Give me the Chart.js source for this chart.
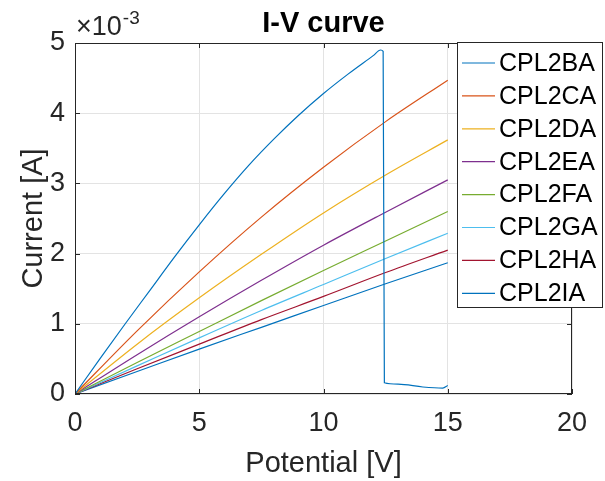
<!DOCTYPE html>
<html>
<head>
<meta charset="utf-8">
<script src="https://cdn.jsdelivr.net/npm/chart.js@4/dist/chart.umd.min.js"></script>
<style>
  html, body { margin: 0; padding: 0; background: #fff; }
  #wrap { width: 605px; height: 481px; }
</style>
</head>
<body>
<div id="wrap"><canvas id="ivChart" width="605" height="481"></canvas></div>
<script>
// values, current in units of 1e-3 A
var seriesNames = ['CPL2BA', 'CPL2CA', 'CPL2DA', 'CPL2EA', 'CPL2FA', 'CPL2GA', 'CPL2HA', 'CPL2IA'];
var seriesColors = ['#0072BD', '#D95319', '#EDB120', '#7E2F8E', '#77AC30', '#4DBEEE', '#A2142F', '#0072BD'];

var baVolts = [0, 1, 2, 3, 4, 5, 6, 7, 8, 9, 10, 11, 12, 12.3, 12.4, 12.45, 13, 14, 14.8, 15];
var baCurrent = [0, 0.5, 0.99, 1.47, 1.95, 2.41, 2.85, 3.26, 3.63, 3.97, 4.28, 4.56, 4.82, 4.9, 4.88, 0.16, 0.14, 0.1, 0.085, 0.12];

var sweepVolts = [0, 2.5, 5, 7.5, 10, 12.5, 15];
var caCurrent = [0, 0.9, 1.74, 2.52, 3.23, 3.88, 4.47];
var daCurrent = [0, 0.71, 1.37, 1.99, 2.58, 3.12, 3.62];
var eaCurrent = [0, 0.56, 1.1, 1.62, 2.12, 2.59, 3.05];
var faCurrent = [0, 0.45, 0.89, 1.33, 1.76, 2.18, 2.6];
var gaCurrent = [0, 0.4, 0.8, 1.19, 1.56, 1.93, 2.29];
var haCurrent = [0, 0.36, 0.71, 1.06, 1.39, 1.73, 2.05];
var iaCurrent = [0, 0.32, 0.64, 0.95, 1.26, 1.57, 1.87];

var xTicks = [0, 5, 10, 15, 20];
var yTicks = [0, 1, 2, 3, 4, 5];

var textColor = '#262626';
var fontName = "'Liberation Sans', Arial, sans-serif";

function pairs(xs, ys) {
    let out = [];
    for (let i = 0; i < xs.length; i++) {
        out.push({ x: xs[i], y: ys[i] });
    }
    return out;
}

var allSeries = [
    pairs(baVolts, baCurrent),
    pairs(sweepVolts, caCurrent),
    pairs(sweepVolts, daCurrent),
    pairs(sweepVolts, eaCurrent),
    pairs(sweepVolts, faCurrent),
    pairs(sweepVolts, gaCurrent),
    pairs(sweepVolts, haCurrent),
    pairs(sweepVolts, iaCurrent)
];

var datasets = [];
for (let i = 0; i < seriesNames.length; i++) {
    datasets.push({
        label: seriesNames[i],
        data: allSeries[i],
        borderColor: seriesColors[i],
        backgroundColor: seriesColors[i],
        borderWidth: 1.2,
        pointRadius: 0,
        fill: false,
        cubicInterpolationMode: 'monotone'
    });
}

// box, inward ticks, titles, exponent and legend in the matlab style
var matlabDecor = {
    id: 'matlabDecor',
    afterDraw: function(chart) {
        const ctx = chart.ctx;
        const a = chart.chartArea;
        const xs = chart.scales.x, ys = chart.scales.y;
        ctx.save();

        ctx.strokeStyle = textColor;
        ctx.lineWidth = 1;
        ctx.strokeRect(a.left + 0.5, a.top + 0.5, a.right - a.left - 1, a.bottom - a.top - 1);

        ctx.beginPath();
        xTicks.forEach(function(v) {
            const px = Math.round(xs.getPixelForValue(v)) + 0.5;
            ctx.moveTo(px, a.bottom); ctx.lineTo(px, a.bottom - 5);
            ctx.moveTo(px, a.top); ctx.lineTo(px, a.top + 5);
        });
        yTicks.forEach(function(v) {
            const py = Math.round(ys.getPixelForValue(v)) + 0.5;
            ctx.moveTo(a.left, py); ctx.lineTo(a.left + 5, py);
            ctx.moveTo(a.right, py); ctx.lineTo(a.right - 5, py);
        });
        ctx.stroke();

        ctx.fillStyle = '#000';
        ctx.font = 'bold 29px ' + fontName;
        ctx.textAlign = 'center';
        ctx.textBaseline = 'alphabetic';
        ctx.fillText('I-V curve', (a.left + a.right) / 2, 32);

        ctx.fillStyle = textColor;
        ctx.font = '29px ' + fontName;
        ctx.fillText('Potential [V]', (a.left + a.right) / 2, 472);

        ctx.save();
        ctx.translate(42, (a.top + a.bottom) / 2);
        ctx.rotate(-Math.PI / 2);
        ctx.fillText('Current [A]', 0, 0);
        ctx.restore();

        ctx.textAlign = 'left';
        ctx.font = '27px ' + fontName;
        ctx.fillText('\u00d710', 76, 35);
        const expX = 76 + ctx.measureText('\u00d710').width + 1;
        ctx.font = '19px ' + fontName;
        ctx.fillText('-3', expX, 24);

        // legend
        const lx = 457, ly = 42, lw = 146, lh = 266;
        ctx.fillStyle = '#fff';
        ctx.fillRect(lx, ly, lw, lh);
        ctx.strokeStyle = textColor;
        ctx.strokeRect(lx + 0.5, ly + 0.5, lw - 1, lh - 1);
        ctx.font = '25px ' + fontName;
        ctx.textBaseline = 'middle';
        chart.data.datasets.forEach(function(ds, i) {
            const rowY = 63 + i * 32.9;
            ctx.strokeStyle = ds.borderColor;
            ctx.lineWidth = 1.2;
            ctx.beginPath();
            ctx.moveTo(462, rowY); ctx.lineTo(495, rowY);
            ctx.stroke();
            ctx.fillStyle = '#000';
            ctx.fillText(ds.label, 499, rowY + 1);
        });
        ctx.restore();
    }
};

var cnv = document.getElementById('ivChart').getContext('2d');
new Chart(cnv, {
    type: 'line',
    data: { datasets: datasets },
    options: {
        responsive: false,
        animation: false,
        layout: { padding: { left: 0, top: 43, right: 33, bottom: 0 } },
        plugins: {
            legend: { display: false },
            title: { display: false },
            tooltip: { enabled: false }
        },
        scales: {
            x: {
                type: 'linear',
                min: 0,
                max: 20,
                afterFit: function(scale) { scale.height = 87; },
                afterBuildTicks: function(scale) {
                    scale.ticks = xTicks.map(function(v) { return { value: v }; });
                },
                grid: { color: '#e3e3e3', drawTicks: false },
                border: { display: false },
                ticks: {
                    padding: 13,
                    color: textColor,
                    maxRotation: 0,
                    font: { family: fontName, size: 27 }
                }
            },
            y: {
                type: 'linear',
                min: 0,
                max: 5,
                afterFit: function(scale) { scale.width = 75; },
                afterBuildTicks: function(scale) {
                    scale.ticks = yTicks.map(function(v) { return { value: v }; });
                },
                grid: { color: '#e3e3e3', drawTicks: false },
                border: { display: false },
                ticks: {
                    padding: 10,
                    color: textColor,
                    font: { family: fontName, size: 27 }
                }
            }
        }
    },
    plugins: [matlabDecor]
});
</script>
</body>
</html>
